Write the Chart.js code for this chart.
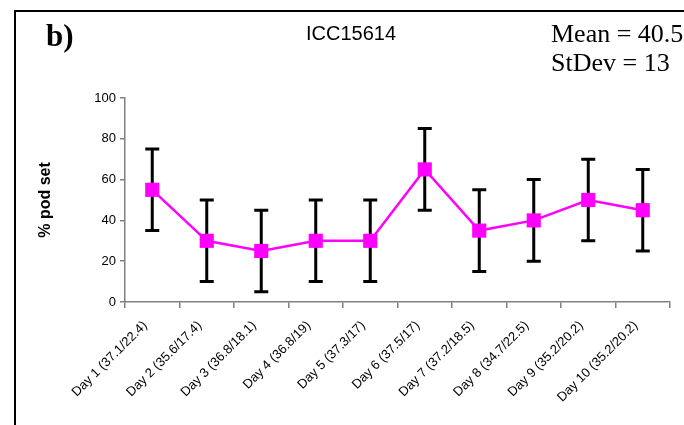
<!DOCTYPE html>
<html>
<head>
<meta charset="utf-8">
<script src="https://cdn.jsdelivr.net/npm/chart.js@4"></script>
<style>
  body { margin: 0; background: #fff; }
  #wrap { position: relative; width: 684px; height: 425px; overflow: hidden; }
  #frame { position: absolute; left: 14px; top: 10px; width: 700px; height: 430px;
           border-left: 2px solid #000; border-top: 2px solid #000; }
  .note { position: absolute; font-family: "Liberation Serif", "Times New Roman", serif; color: #000; white-space: nowrap; }
  #panel { left: 46px; top: 18px; font-size: 31px; font-weight: bold; }
  #mean { left: 551px; top: 19px; font-size: 26px; }
  #sd { left: 551px; top: 48px; font-size: 26px; }
  canvas { position: absolute; left: 0; top: 0; }
</style>
</head>
<body>
<div id="wrap">
  <div id="frame"></div>
  <canvas id="chart" width="684" height="425"></canvas>
  <div class="note" id="panel">b)</div>
  <div class="note" id="mean">Mean = 40.5</div>
  <div class="note" id="sd">StDev = 13</div>
</div>
<script>
// dias (temperatura max/min) y % de vainas
var labels = ["Day 1 (37.1/22.4)", "Day 2 (35.6/17.4)", "Day 3 (36.8/18.1)", "Day 4 (36.8/19)",
              "Day 5 (37.3/17)", "Day 6 (37.5/17)", "Day 7 (37.2/18.5)", "Day 8 (34.7/22.5)",
              "Day 9 (35.2/20.2)", "Day 10 (35.2/20.2)"];
var podSet = [55, 30, 25, 30, 30, 65, 35, 40, 50, 45];
var errLow = [35, 10, 5, 10, 10, 45, 15, 20, 30, 25];
var errHigh = [75, 50, 45, 50, 50, 85, 55, 60, 70, 65];
var yTicks = [0, 20, 40, 60, 80, 100];

var FONT = "'Liberation Sans', Arial, sans-serif";

// barras de error dibujadas debajo de la linea
var errorBars = {
    id: "errorBars",
    beforeDatasetsDraw: function (chart) {
        var ctx = chart.ctx;
        var xs = chart.scales.x, ys = chart.scales.y;
        ctx.save();
        ctx.strokeStyle = "#000";
        ctx.lineWidth = 3;
        for (var i = 0; i < podSet.length; i++) {
            var x = xs.getPixelForValue(i);
            var top = ys.getPixelForValue(errHigh[i]);
            var bot = ys.getPixelForValue(errLow[i]);
            ctx.beginPath();
            ctx.moveTo(x, top); ctx.lineTo(x, bot);
            ctx.moveTo(x - 7, top); ctx.lineTo(x + 7, top);
            ctx.moveTo(x - 7, bot); ctx.lineTo(x + 7, bot);
            ctx.stroke();
        }
        ctx.restore();
    }
};

new Chart(document.getElementById("chart"), {
    type: "line",
    data: {
        labels: labels,
        datasets: [{
            label: "% pod set",
            data: podSet,
            borderColor: "#FF00FF",
            backgroundColor: "#FF00FF",
            borderWidth: 2.5,
            pointStyle: "rect",
            pointRadius: 10,
            pointHoverRadius: 10,
            pointBorderWidth: 0,
            tension: 0
        }]
    },
    options: {
        responsive: false,
        animation: false,
        layout: { padding: { top: 10, left: 32, right: 14, bottom: 0 } },
        plugins: {
            legend: { display: false },
            tooltip: { enabled: false },
            title: {
                display: true,
                text: "ICC15614",
                color: "#000",
                font: { family: FONT, size: 20, weight: "normal" },
                padding: { top: 12, bottom: 52 }
            }
        },
        scales: {
            x: {
                offset: true,
                afterFit: function (s) { s.height = 123; },
                grid: { offset: true, drawOnChartArea: false, tickLength: 6, color: "#808080", lineWidth: 1.5 },
                border: { color: "#808080", width: 1.5 },
                ticks: {
                    minRotation: 45, maxRotation: 45, autoSkip: false,
                    color: "#000", padding: 10, labelOffset: -7,
                    font: { family: FONT, size: 13 }
                }
            },
            y: {
                min: 0, max: 100,
                afterFit: function (s) { s.width = 93; },
                afterBuildTicks: function (s) { s.ticks = yTicks.map(function (v) { return { value: v }; }); },
                grid: { drawOnChartArea: false, tickLength: 5, color: "#808080", lineWidth: 1.5 },
                border: { color: "#808080", width: 1.5 },
                ticks: { color: "#000", padding: 4, font: { family: FONT, size: 13 } },
                title: {
                    display: true,
                    text: "% pod set",
                    color: "#000",
                    font: { family: FONT, size: 16, weight: "bold" }
                }
            }
        }
    },
    plugins: [errorBars]
});
</script>
</body>
</html>
